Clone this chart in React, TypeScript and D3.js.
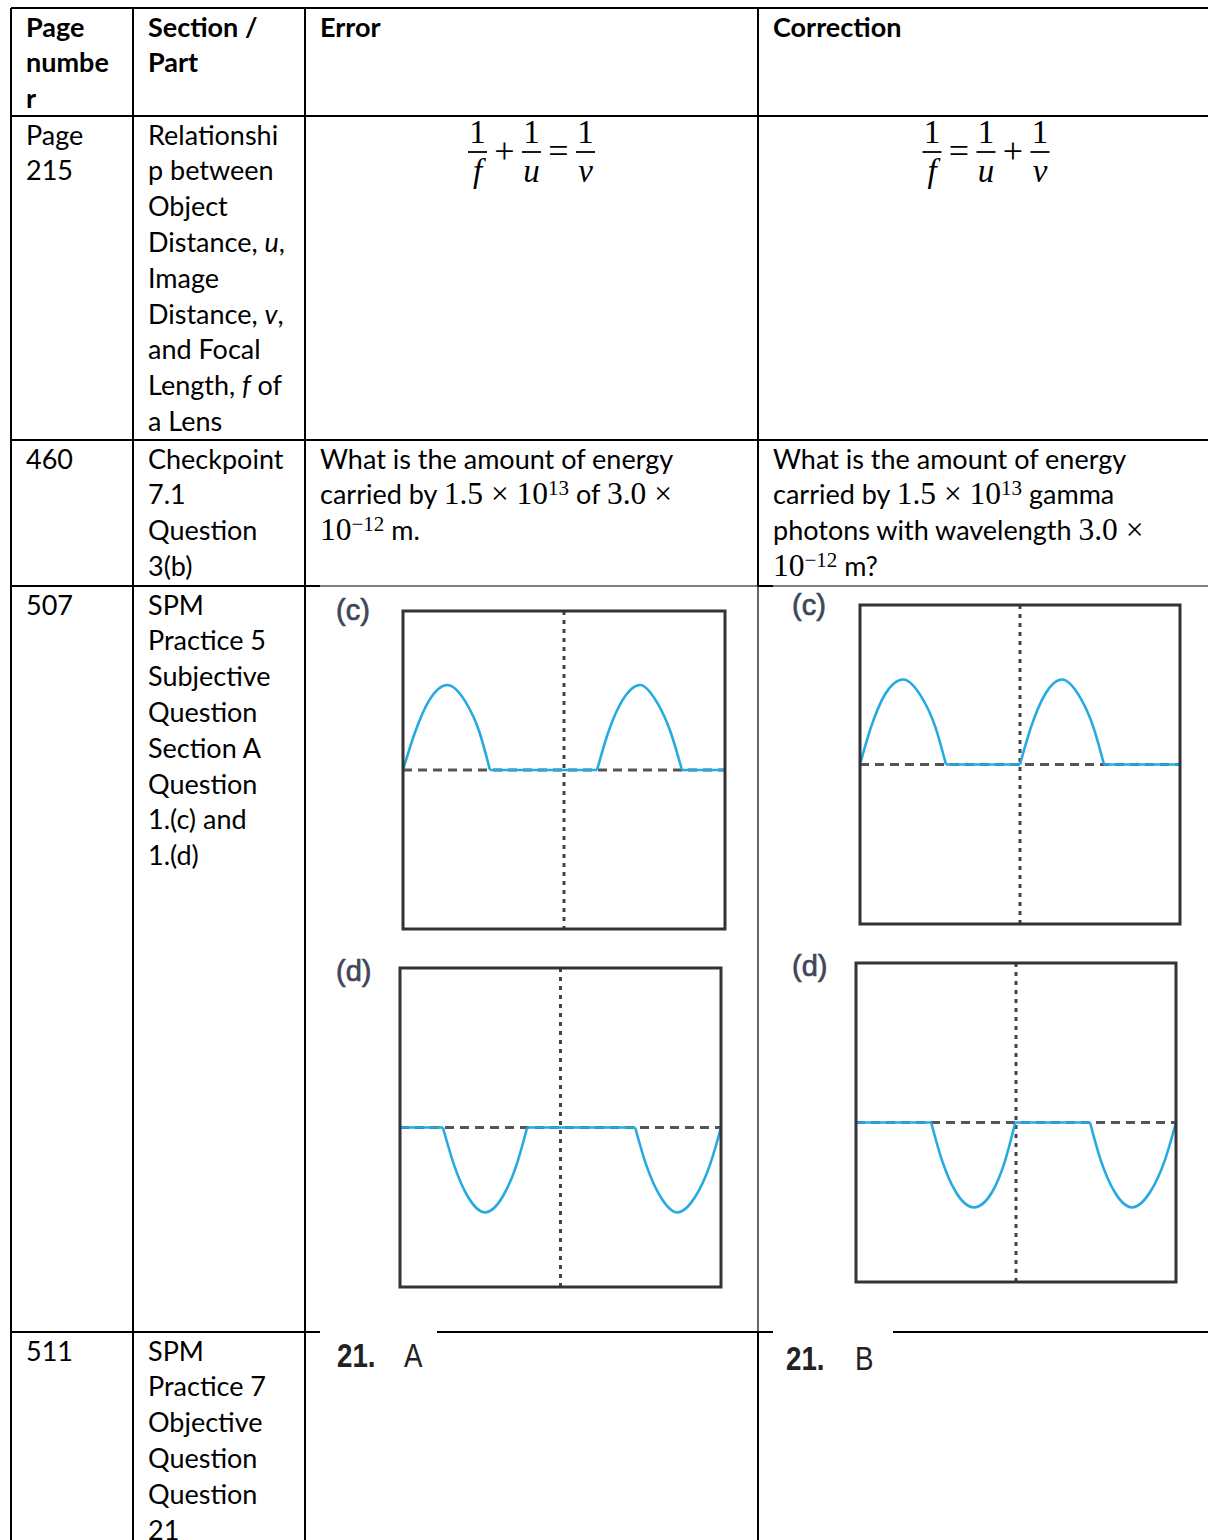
import React from "react";
import * as d3 from "d3";

// ---- page / table layout ----
const W = 1208;
const H = 1540;
const colX = [11, 133, 305, 758, 1208];
const rowY = [8, 116, 440, 586, 1332, 1540];
const padX = 15;
const lineH = 35.8;
const firstBase = 28.5;

const BODY = "Lato, 'Open Sans', sans-serif";
const MATH = "'Liberation Serif', 'DejaVu Serif', serif";
const BODY_SIZE = 27;
const MATH_SIZE = 31.5;

// ---- cell texts ----
// segment = [text, style]  n: normal, b: bold, i: italic, m: math, sup: math superscript
type Seg = [string, string];
type Line = Seg[] | string;

const headerCells: Line[][] = [
  [[["Page", "b"]], [["numbe", "b"]], [["r", "b"]]],
  [[["Section /", "b"]], [["Part", "b"]]],
  [[["Error", "b"]]],
  [[["Correction", "b"]]],
];

const pageCells: Line[][] = [["Page", "215"], ["460"], ["507"], ["511"]];

const sectionCells: Line[][] = [
  [
    "Relationshi",
    "p between",
    "Object",
    [["Distance, ", "n"], ["u", "i"], [",", "n"]],
    "Image",
    [["Distance, ", "n"], ["v", "i"], [",", "n"]],
    "and Focal",
    [["Length, ", "n"], ["f", "i"], [" of", "n"]],
    "a Lens",
  ],
  ["Checkpoint", "7.1", "Question", "3(b)"],
  ["SPM", "Practice 5", "Subjective", "Question", "Section A", "Question", "1.(c) and", "1.(d)"],
  ["SPM", "Practice 7", "Objective", "Question", "Question", "21"],
];

const errorQuestion: Line[] = [
  "What is the amount of energy",
  [["carried by ", "n"], ["1.5 × 10", "m"], ["13", "sup"], [" of ", "n"], ["3.0 ×", "m"]],
  [["10", "m"], ["−12", "sup"], [" m.", "n"]],
];
const correctionQuestion: Line[] = [
  "What is the amount of energy",
  [["carried by ", "n"], ["1.5 × 10", "m"], ["13", "sup"], [" gamma", "n"]],
  [["photons with wavelength ", "n"], ["3.0 ×", "m"]],
  [["10", "m"], ["−12", "sup"], [" m?", "n"]],
];

// lens formula tokens: [numerator, denominator] or operator
const errorFormula: (string | [string, string])[] = [["1", "f"], "+", ["1", "u"], "=", ["1", "v"]];
const correctionFormula: (string | [string, string])[] = [["1", "f"], "=", ["1", "u"], "+", ["1", "v"]];

const errorAnswer = ["21.", "A"];
const correctionAnswer = ["21.", "B"];

// ---- oscilloscope traces (x in divisions 0..8, y in divisions -4..4) ----
type Pt = [number, number];
const errorC: Pt[][] = [
  [[0, 0], [0.3, 0.95], [0.65, 1.75], [1.1, 2.14], [1.55, 1.72], [1.9, 0.95], [2.16, 0]],
  [[2.16, 0], [4.82, 0]],
  [[4.82, 0], [5.1, 0.95], [5.45, 1.75], [5.89, 2.14], [6.3, 1.72], [6.65, 0.95], [6.93, 0]],
  [[6.93, 0], [8, 0]],
];
const errorD: Pt[][] = [
  [[0, 0], [1.07, 0]],
  [[1.07, 0], [1.35, -0.95], [1.7, -1.75], [2.12, -2.13], [2.55, -1.75], [2.9, -0.95], [3.17, 0]],
  [[3.17, 0], [5.86, 0]],
  [[5.86, 0], [6.14, -0.95], [6.5, -1.75], [6.91, -2.13], [7.35, -1.75], [7.72, -0.95], [8, 0]],
];
const correctionC: Pt[][] = [
  [[0, 0], [0.28, 0.95], [0.62, 1.75], [1.08, 2.13], [1.52, 1.72], [1.88, 0.95], [2.15, 0]],
  [[2.15, 0], [4.0, 0]],
  [[4.0, 0], [4.28, 0.95], [4.62, 1.75], [5.05, 2.13], [5.48, 1.72], [5.83, 0.95], [6.1, 0]],
  [[6.1, 0], [8, 0]],
];
const correctionD: Pt[][] = [
  [[0, 0], [1.88, 0]],
  [[1.88, 0], [2.15, -0.95], [2.5, -1.75], [2.95, -2.13], [3.4, -1.75], [3.73, -0.95], [3.98, 0]],
  [[3.98, 0], [5.85, 0]],
  [[5.85, 0], [6.12, -0.95], [6.47, -1.75], [6.9, -2.13], [7.35, -1.75], [7.72, -0.95], [8, 0]],
];

const scopes = [
  { label: "(c)", lx: 336, ly: 620, x: 403, y: 611, w: 322, h: 318, trace: errorC },
  { label: "(d)", lx: 336, ly: 981, x: 400, y: 968, w: 321, h: 319, trace: errorD },
  { label: "(c)", lx: 792, ly: 615, x: 860, y: 605, w: 320, h: 319, trace: correctionC },
  { label: "(d)", lx: 792, ly: 976, x: 856, y: 963, w: 320, h: 319, trace: correctionD },
];

// grid segments [x1, y1, x2, y2, width]
const gridSegs: number[][] = [
  [colX[0], rowY[0], W, rowY[0], 2],
  [colX[0], rowY[1], W, rowY[1], 2],
  [colX[0], rowY[2], W, rowY[2], 2],
  [colX[0], rowY[3], 320, rowY[3], 2],
  [320, rowY[3], colX[3], rowY[3], 1.2],
  [colX[3], rowY[3], 773, rowY[3], 2],
  [773, rowY[3], W, rowY[3], 1.2],
  [colX[0], rowY[4], 320, rowY[4], 2],
  [437, rowY[4], 773, rowY[4], 2],
  [893, rowY[4], W, rowY[4], 2],
  [colX[0], rowY[0], colX[0], H, 2],
  [colX[1], rowY[0], colX[1], H, 2],
  [colX[2], rowY[0], colX[2], H, 2],
  [colX[3], rowY[0], colX[3], rowY[3], 2],
  [colX[3], rowY[3], colX[3], rowY[4], 1.2],
  [colX[3], rowY[4], colX[3], H, 2],
];

function segStyle(s: string) {
  if (s === "b") return { fontFamily: BODY, fontWeight: 700, fontSize: BODY_SIZE };
  if (s === "i") return { fontFamily: BODY, fontStyle: "italic", fontSize: BODY_SIZE };
  if (s === "m") return { fontFamily: MATH, fontSize: MATH_SIZE };
  if (s === "sup") return { fontFamily: MATH, fontSize: 21 };
  return { fontFamily: BODY, fontSize: BODY_SIZE };
}

function RichLine({ line, x, y }: { line: Line; x: number; y: number }) {
  const segs: Seg[] = typeof line === "string" ? [[line, "n"]] : line;
  let cur = 0;
  return (
    <text x={x} y={y} fill="#000" style={{ whiteSpace: "pre" }}>
      {segs.map(([t, s], i) => {
        const target = s === "sup" ? -9 : 0;
        const dy = target - cur;
        cur = target;
        return (
          <tspan key={i} dy={dy} {...(segStyle(s) as any)}>
            {t}
          </tspan>
        );
      })}
    </text>
  );
}

function CellText({ lines, col, row }: { lines: Line[]; col: number; row: number }) {
  return (
    <g>
      {lines.map((l, i) => (
        <RichLine key={i} line={l} x={colX[col] + padX} y={rowY[row] + firstBase + i * lineH} />
      ))}
    </g>
  );
}

function Formula({ tokens, cx }: { tokens: (string | [string, string])[]; cx: number }) {
  const step = 27;
  const pos = d3
    .scalePoint<number>()
    .domain(d3.range(tokens.length))
    .range([cx - (step * (tokens.length - 1)) / 2, cx + (step * (tokens.length - 1)) / 2]);
  return (
    <g fontFamily={MATH} fill="#000">
      {tokens.map((t, i) => {
        const x = pos(i)!;
        if (typeof t === "string")
          return (
            <text key={i} x={x} y={163} textAnchor="middle" fontSize={36}>
              {t}
            </text>
          );
        return (
          <g key={i}>
            <text x={x} y={143} textAnchor="middle" fontSize={33}>
              {t[0]}
            </text>
            <line x1={x - 9.5} x2={x + 9.5} y1={152} y2={152} stroke="#000" strokeWidth={1.8} />
            <text x={x} y={182} textAnchor="middle" fontSize={33} fontStyle="italic">
              {t[1]}
            </text>
          </g>
        );
      })}
    </g>
  );
}

function Scope({ s }: { s: (typeof scopes)[number] }) {
  const xs = d3.scaleLinear().domain([0, 8]).range([s.x, s.x + s.w]);
  const ys = d3.scaleLinear().domain([-4, 4]).range([s.y + s.h, s.y]);
  const line = d3
    .line<Pt>()
    .x((d) => xs(d[0]))
    .y((d) => ys(d[1]))
    .curve(d3.curveMonotoneX);
  return (
    <g>
      <text
        x={s.lx}
        y={s.ly}
        fontFamily="'Liberation Sans', Arial, sans-serif"
        fontSize={29}
        fill="#3f465a"
        stroke="#3f465a"
        strokeWidth={0.7}
      >
        {s.label}
      </text>
      <line x1={xs(0)} x2={xs(8)} y1={ys(0)} y2={ys(0)} stroke="#555" strokeWidth={3} strokeDasharray="9 6" />
      <line x1={xs(4)} x2={xs(4)} y1={ys(4)} y2={ys(-4)} stroke="#444" strokeWidth={3} strokeDasharray="4 5" />
      {s.trace.map((p, i) => (
        <path key={i} d={line(p) || ""} fill="none" stroke="#26aae2" strokeWidth={2.6} />
      ))}
      <rect x={s.x} y={s.y} width={s.w} height={s.h} fill="none" stroke="#333" strokeWidth={3} />
    </g>
  );
}

function Answer({ parts, x, y, gap }: { parts: string[]; x: number; y: number; gap: number }) {
  return (
    <g transform={`translate(${x},${y}) scale(0.84,1)`} fill="#222" fontFamily="'Liberation Sans', Arial, sans-serif" fontSize={33}>
      <text x={0} y={0} fontWeight={700}>
        {parts[0]}
      </text>
      <text x={gap / 0.84} y={0}>
        {parts[1]}
      </text>
    </g>
  );
}

export default function App() {
  return (
    <svg width={W} height={H} style={{ position: "absolute", left: 0, top: 0, background: "#fff" }}>
      <rect width={W} height={H} fill="#fff" />
      {gridSegs.map((g, i) => (
        <line key={i} x1={g[0]} y1={g[1]} x2={g[2]} y2={g[3]} stroke="#000" strokeWidth={g[4]} />
      ))}

      {headerCells.map((c, i) => (
        <CellText key={i} lines={c} col={i} row={0} />
      ))}
      {pageCells.map((c, i) => (
        <CellText key={i} lines={c} col={0} row={i + 1} />
      ))}
      {sectionCells.map((c, i) => (
        <CellText key={i} lines={c} col={1} row={i + 1} />
      ))}

      <Formula tokens={errorFormula} cx={(colX[2] + colX[3]) / 2} />
      <Formula tokens={correctionFormula} cx={(colX[3] + colX[4]) / 2 + 3} />

      <CellText lines={errorQuestion} col={2} row={2} />
      <CellText lines={correctionQuestion} col={3} row={2} />

      {scopes.map((s, i) => (
        <Scope key={i} s={s} />
      ))}

      <Answer parts={errorAnswer} x={337} y={1367} gap={67} />
      <Answer parts={correctionAnswer} x={786} y={1370} gap={69} />
    </svg>
  );
}
